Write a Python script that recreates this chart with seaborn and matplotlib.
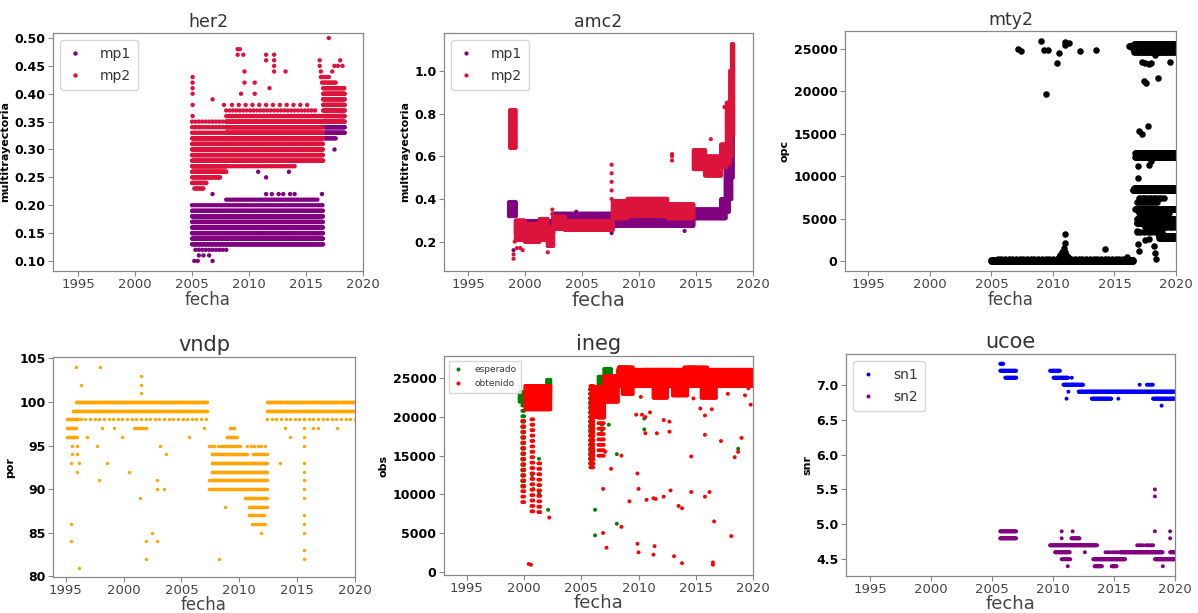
import numpy as np
import pandas as pd
import matplotlib
matplotlib.use("Agg")
import matplotlib.pyplot as plt
import seaborn as sns

# ------------------------------------------------------------------
# DATA  (dense daily series described as rows
# of quantized values: (start year, end year, value, spacing in years),
# or blocks (start, end, low, high, x spacing, y spacing);
# isolated points listed explicitly)
# ------------------------------------------------------------------

# ---- her2 ----
her2_mp1_rows = [
    (2005.0, 2016.5, 0.13, 0.05), (2005.0, 2016.5, 0.14, 0.04), (2005.0, 2016.5, 0.15, 0.04),
    (2005.0, 2016.5, 0.16, 0.04), (2005.0, 2016.5, 0.17, 0.04), (2005.0, 2016.5, 0.18, 0.04),
    (2005.0, 2016.5, 0.19, 0.07), (2005.0, 2016.5, 0.20, 0.22), (2008.0, 2016.0, 0.21, 0.2),
    (2005.3, 2008.0, 0.12, 0.3),
    (2016.6, 2018.4, 0.33, 0.05), (2016.6, 2018.4, 0.34, 0.05), (2016.6, 2018.0, 0.35, 0.06),
    (2016.6, 2017.6, 0.32, 0.1), (2018.0, 2018.4, 0.36, 0.06),
]
her2_mp1_x = [2005.2, 2005.5, 2006.8, 2005.6, 2006.0, 2006.5, 2011.5, 2012.0, 2012.6, 2013.0,
              2013.6, 2014.0, 2016.4, 2006.8, 2010.8, 2011.5, 2013.5, 2005.2, 2017.5]
her2_mp1_y = [0.10, 0.10, 0.10, 0.11, 0.11, 0.11, 0.22, 0.22, 0.22, 0.22,
              0.22, 0.22, 0.22, 0.22, 0.26, 0.25, 0.26, 0.34, 0.30]
her2_mp2_rows = [
    (2005.2, 2006.0, 0.23, 0.1), (2005.0, 2006.3, 0.24, 0.06), (2005.0, 2007.5, 0.25, 0.06),
    (2005.0, 2008.0, 0.26, 0.04), (2005.0, 2008.0, 0.27, 0.04), (2005.0, 2016.5, 0.28, 0.05),
    (2005.0, 2016.5, 0.29, 0.04), (2005.0, 2016.5, 0.30, 0.04), (2005.0, 2016.5, 0.31, 0.04),
    (2005.0, 2016.5, 0.32, 0.04), (2005.0, 2008.0, 0.33, 0.15), (2005.0, 2008.0, 0.34, 0.2),
    (2005.0, 2008.0, 0.35, 0.3), (2008.0, 2016.5, 0.33, 0.04), (2008.0, 2016.5, 0.34, 0.04),
    (2008.0, 2016.5, 0.35, 0.05), (2008.0, 2014.0, 0.27, 0.2), (2008.0, 2016.4, 0.36, 0.1),
    (2008.0, 2016.0, 0.37, 0.3), (2008.5, 2015.5, 0.38, 0.6),
    (2016.5, 2018.4, 0.35, 0.05), (2016.5, 2018.4, 0.36, 0.05), (2016.5, 2018.4, 0.37, 0.05),
    (2016.5, 2018.4, 0.38, 0.05), (2016.5, 2018.4, 0.39, 0.05), (2016.5, 2018.4, 0.40, 0.05),
    (2016.5, 2018.4, 0.41, 0.06), (2016.4, 2017.6, 0.42, 0.12), (2016.4, 2017.0, 0.43, 0.2),
]
her2_mp2_x = [2005.05, 2005.05, 2005.05, 2005.05, 2005.05, 2005.05, 2006.8, 2007.8, 2009.0,
              2009.2, 2009.0, 2009.5, 2009.6, 2009.6, 2010.5, 2010.5, 2011.5, 2011.5, 2011.8,
              2012.2, 2012.2, 2012.2, 2012.2, 2013.2, 2009.3, 2016.2, 2016.2, 2016.3, 2016.3,
              2017.0, 2017.5, 2017.8, 2018.0, 2018.2, 2017.3]
her2_mp2_y = [0.36, 0.38, 0.40, 0.41, 0.42, 0.43, 0.39, 0.38, 0.48,
              0.48, 0.47, 0.47, 0.44, 0.42, 0.42, 0.40, 0.47, 0.46, 0.41,
              0.47, 0.46, 0.45, 0.44, 0.44, 0.40, 0.46, 0.45, 0.44, 0.43,
              0.50, 0.45, 0.45, 0.46, 0.45, 0.44]

# ---- amc2 ----
amc2_mp1_blocks = [
    (1998.6, 1999.2, 0.32, 0.39, 0.04, 0.008), (1999.2, 2002.5, 0.24, 0.30, 0.04, 0.008),
    (2002.5, 2007.7, 0.29, 0.335, 0.04, 0.008), (2007.7, 2014.8, 0.275, 0.31, 0.04, 0.008),
    (2014.8, 2017.2, 0.31, 0.35, 0.04, 0.008), (2017.2, 2017.6, 0.31, 0.40, 0.04, 0.008),
    (2017.6, 2017.9, 0.34, 0.55, 0.04, 0.008), (2017.9, 2018.1, 0.40, 0.75, 0.04, 0.008),
    (2018.1, 2018.25, 0.50, 0.95, 0.04, 0.008),
]
amc2_mp1_x = [2014.0, 1999.0, 2007.6, 2002.0, 2004.5]
amc2_mp1_y = [0.25, 0.16, 0.24, 0.28, 0.34]
amc2_mp2_blocks = [
    (1998.7, 1999.2, 0.64, 0.82, 0.04, 0.008), (1999.2, 2000.0, 0.21, 0.30, 0.04, 0.008),
    (2000.0, 2001.3, 0.20, 0.28, 0.04, 0.008), (2001.3, 2002.0, 0.21, 0.31, 0.04, 0.008),
    (2002.0, 2002.5, 0.18, 0.27, 0.04, 0.008), (2002.5, 2003.5, 0.26, 0.32, 0.04, 0.008),
    (2003.5, 2007.7, 0.255, 0.30, 0.04, 0.008), (2007.7, 2009.0, 0.31, 0.39, 0.04, 0.008),
    (2009.0, 2012.5, 0.32, 0.40, 0.04, 0.008), (2012.5, 2014.8, 0.31, 0.38, 0.04, 0.008),
    (2014.8, 2015.8, 0.54, 0.63, 0.04, 0.008), (2015.8, 2017.2, 0.51, 0.60, 0.04, 0.008),
    (2017.2, 2017.7, 0.55, 0.66, 0.04, 0.008), (2017.7, 2018.0, 0.57, 0.85, 0.04, 0.008),
    (2018.0, 2018.15, 0.60, 1.00, 0.04, 0.008), (2018.15, 2018.3, 0.70, 1.13, 0.04, 0.008),
]
amc2_mp2_x = [1999.0, 1999.0, 1999.1, 1999.3, 1999.6, 1999.8, 2002.0, 2002.4, 2002.4,
              2007.6, 2007.6, 2007.6, 2007.6, 2007.6, 2012.9, 2012.9, 2012.9, 2016.3, 2017.5]
amc2_mp2_y = [0.12, 0.14, 0.20, 0.17, 0.17, 0.16, 0.15, 0.35, 0.33,
              0.40, 0.44, 0.48, 0.52, 0.56, 0.58, 0.60, 0.61, 0.68, 0.83]

# ---- mty2 ----
mty2_rows = [
    (2005.0, 2016.5, 50, 0.04), (2005.0, 2016.5, 180, 0.05), (2005.5, 2016.2, 320, 0.3),
    (2016.2, 2020.0, 25300, 0.03), (2016.5, 2020.0, 25000, 0.06), (2016.6, 2020.0, 24700, 0.1),
    (2016.6, 2020.0, 25600, 0.06), (2016.7, 2020.0, 12300, 0.03), (2016.7, 2020.0, 12700, 0.04),
    (2016.5, 2020.0, 8400, 0.03), (2016.6, 2020.0, 8600, 0.05), (2016.7, 2020.0, 6200, 0.05),
    (2016.8, 2020.0, 5000, 0.05), (2016.8, 2020.0, 4500, 0.07), (2017.5, 2020.0, 4000, 0.2),
    (2018.6, 2020.0, 3000, 0.04), (2018.6, 2020.0, 2800, 0.06), (2016.8, 2018.5, 7000, 0.15),
    (2017.0, 2019.0, 7500, 0.2), (2017.0, 2019.5, 5700, 0.15), (2016.8, 2019.0, 3500, 0.3),
    (2010.5, 2011.2, 500, 0.05), (2010.6, 2011.1, 800, 0.08), (2010.7, 2011.0, 1100, 0.1),
]
mty2_x = [2007.2, 2007.4, 2009.0, 2009.3, 2009.4, 2009.6, 2010.3, 2010.5, 2011.0, 2011.0,
          2011.3, 2012.2, 2013.5, 2014.2, 2016.0, 2011.0, 2011.0, 2010.9,
          2017.2, 2017.5, 2017.8, 2018.0, 2019.5, 2018.3, 2017.4, 2017.6, 2018.5, 2017.0,
          2017.2, 2017.7, 2016.9, 2017.8, 2018.0, 2016.9, 2016.8, 2016.9, 2017.0, 2017.5,
          2018.2, 2018.3, 2018.4, 2017.8]
mty2_y = [25000, 24800, 25900, 24900, 19700, 24900, 23400, 24500, 25800, 25500,
          25700, 24800, 24900, 1400, 500, 3200, 2100, 1600,
          23500, 23400, 23200, 23300, 23500, 24300, 21200, 21000, 21600, 15400,
          15000, 15900, 11200, 11300, 11800, 9800, 3600, 2000, 1200, 2500,
          1800, 1000, 300, 2600]

# ---- vndp ----
vndp_rows = [
    (1995.9, 2007.2, 100, 0.04), (2012.4, 2020.0, 100, 0.04),
    (1995.6, 2007.2, 99, 0.05), (2012.4, 2020.0, 99, 0.05),
    (1995.1, 1996.1, 98, 0.06), (1996.3, 2007.1, 98, 0.4), (2012.4, 2020.0, 98, 0.4),
    (1995.1, 1995.9, 97, 0.07), (2000.9, 2001.9, 97, 0.1), (1995.1, 1996.0, 96, 0.07),
    (2007.4, 2007.8, 95, 0.1), (2008.2, 2010.1, 95, 0.1), (2010.7, 2012.4, 95, 0.3),
    (2007.6, 2010.7, 94, 0.06), (2011.2, 2012.4, 94, 0.1),
    (2007.6, 2012.4, 93, 0.05), (2007.6, 2012.4, 92, 0.05), (2007.4, 2012.4, 91, 0.06),
    (2007.4, 2012.4, 90, 0.08), (2010.5, 2012.4, 89, 0.06), (2010.8, 2012.4, 88, 0.06),
    (2010.8, 2012.2, 87, 0.08), (2011.1, 2012.2, 86, 0.1),
    (2008.9, 2009.8, 96, 0.06), (2009.2, 2009.6, 97, 0.06),
]
vndp_x = [1995.86, 1997.96, 1996.35, 2001.47, 2001.47, 2001.47, 2002.47, 2001.98, 2002.9,
          2001.98, 1995.49, 1995.49, 1996.15, 1995.57, 1996.0, 1997.7, 2003.19, 1995.57,
          1996.0, 2003.68, 1995.43, 1996.15, 1998.6, 1995.95, 2000.46, 1997.87, 2002.9,
          2002.9, 2003.48, 2001.4, 1996.87, 1999.89, 2005.63, 1998.16, 1999.17, 2006.93,
          2008.28, 2013.97, 2016.4, 2016.84, 2018.42, 2014.4, 2013.48, 2011.9, 2008.8,
          2015.55, 2015.55, 2015.55, 2015.55, 2015.55, 2015.55, 2015.55, 2015.55, 2015.55,
          2015.55, 2015.55, 2015.55, 2015.55, 2015.55]
vndp_y = [104, 104, 102, 103, 102, 101, 85, 84, 84,
          82, 86, 84, 81, 95, 95, 95, 95, 94,
          94, 94, 93, 93, 93, 92, 92, 91, 91,
          90, 90, 89, 96, 96, 96, 97, 97, 97,
          82, 97, 97, 97, 97, 96, 93, 85, 88,
          98, 97, 96, 95, 93, 92, 91, 90, 89,
          87, 86, 85, 83, 82]

# ---- ineg ----
ineg_esp_blocks = [
    (1999.6, 2000.1, 22000, 23300, 0.05, 300), (1999.85, 2000.0, 11000, 22000, 0.15, 700),
    (2002.0, 2002.3, 23300, 24800, 0.05, 300), (2005.75, 2006.1, 14000, 24000, 0.15, 600),
    (2006.5, 2008.2, 24000, 25300, 0.05, 300), (2007.0, 2007.6, 25300, 26400, 0.05, 300),
    (2008.3, 2009.0, 25800, 26500, 0.05, 300), (2014.5, 2015.0, 25800, 26400, 0.1, 300),
]
ineg_esp_x = [2000.7, 2000.8, 2001.3, 2001.3, 2002.1, 2010.5, 2010.5, 2018.7, 2008.1, 2008.1,
              2006.2, 2006.2, 2006.8, 2006.8, 2007.4]
ineg_esp_y = [12500, 10700, 14600, 10200, 8000, 18400, 19800, 15900, 6200, 15200,
              8000, 4700, 18300, 19000, 19000]
ineg_obt_blocks = [
    (1999.85, 2000.1, 9000, 20000, 0.15, 700), (2000.1, 2002.3, 21000, 24000, 0.05, 300),
    (2000.65, 2000.9, 7800, 20000, 0.15, 700), (2001.25, 2001.4, 7700, 14000, 0.15, 700),
    (2005.8, 2006.1, 13500, 24000, 0.08, 500), (2006.1, 2007.0, 20000, 24000, 0.05, 300),
    (2007.0, 2008.2, 22000, 25500, 0.05, 300), (2006.5, 2007.0, 15000, 20000, 0.15, 700),
    (2008.2, 2020.0, 24000, 26100, 0.05, 300), (2008.3, 2009.5, 26100, 26500, 0.05, 300),
    (2010.5, 2013.0, 26100, 26300, 0.08, 300), (2014.0, 2016.0, 26100, 26400, 0.08, 300),
    (2008.6, 2009.5, 23000, 24000, 0.06, 300),
    (2011.3, 2012.5, 22500, 24000, 0.06, 300), (2013.0, 2014.3, 22800, 24000, 0.06, 300),
    (2015.5, 2016.8, 22500, 24000, 0.06, 300),
]
ineg_obt_x = [2000.4, 2000.6, 2002.2, 2006.9, 2006.9, 2007.2, 2007.1, 2007.6, 2008.5, 2008.5,
              2009.2, 2009.9, 2010.0, 2009.9, 2010.0, 2009.8, 2010.3, 2010.6, 2010.6, 2010.7,
              2011.0, 2011.3, 2011.5, 2011.4, 2011.3, 2011.6, 2012.2, 2012.2, 2012.7, 2012.7,
              2012.8, 2013.1, 2013.5, 2013.8, 2013.8, 2014.6, 2014.6, 2015.4, 2015.8, 2015.8,
              2015.8, 2016.2, 2016.4, 2016.5, 2016.5, 2016.6, 2017.2, 2018.1, 2018.4, 2018.7,
              2019.0, 2019.6, 2019.8, 2010.2, 2014.8, 2017.8, 2019.3]
ineg_obt_y = [1000, 900, 7000, 10700, 5000, 3100, 15500, 13300, 5800, 15000,
              9100, 12700, 10700, 3600, 2500, 20300, 20300, 20000, 17900, 9300,
              20600, 9500, 9400, 3300, 2200, 17900, 9700, 19600, 19400, 18100,
              10500, 2000, 8500, 8200, 1100, 14900, 10300, 21100, 9700, 17700,
              20200, 10300, 21000, 1200, 900, 6500, 16900, 4600, 14800, 15500,
              17300, 23700, 21600, 22600, 22400, 23000, 22800]

# ---- ucoe ----
ucoe_sn1_rows = [
    (2005.66, 2005.93, 7.3, 0.06), (2005.66, 2007.0, 7.2, 0.05), (2006.07, 2007.0, 7.1, 0.05),
    (2009.75, 2010.57, 7.2, 0.05), (2010.03, 2011.26, 7.1, 0.05), (2010.85, 2012.49, 7.0, 0.05),
    (2012.1, 2020.0, 6.9, 0.04), (2013.17, 2014.8, 6.8, 0.05), (2018.2, 2020.0, 6.8, 0.05),
    (2017.7, 2018.2, 7.0, 0.12),
]
ucoe_sn1_x = [2011.53, 2017.1, 2015.35, 2011.1, 2011.25, 2018.9, 2011.6]
ucoe_sn1_y = [7.1, 7.0, 6.8, 6.8, 6.9, 6.7, 7.0]
ucoe_sn2_rows = [
    (2005.66, 2007.0, 4.9, 0.05), (2005.66, 2007.0, 4.8, 0.05), (2009.75, 2013.6, 4.7, 0.05),
    (2010.16, 2011.4, 4.6, 0.05), (2010.7, 2011.4, 4.5, 0.07), (2011.5, 2012.2, 4.8, 0.06),
    (2013.3, 2015.9, 4.5, 0.04), (2013.4, 2014.0, 4.4, 0.05), (2014.8, 2015.2, 4.4, 0.05),
    (2014.3, 2015.3, 4.6, 0.2), (2015.5, 2019.0, 4.6, 0.04), (2016.9, 2017.4, 4.7, 0.15),
    (2017.6, 2018.2, 4.7, 0.15), (2018.36, 2020.0, 4.5, 0.04), (2019.6, 2020.0, 4.6, 0.05),
]
ucoe_sn2_x = [2018.35, 2018.35, 2018.35, 2019.6, 2019.6, 2019.0, 2010.7, 2010.7, 2011.6,
              2011.2, 2012.6]
ucoe_sn2_y = [5.5, 5.4, 4.9, 4.9, 4.8, 4.4, 4.9, 4.8, 4.9, 4.4, 4.6]


# ------------------------------------------------------------------
def from_rows(rows, xs_extra, ys_extra, label):
    xs, ys = [], []
    for x0, x1, y, dx in rows:
        px = np.arange(x0, x1 + 1e-9, dx)
        xs.append(px)
        ys.append(np.full(len(px), y, dtype=float))
    xs.append(np.asarray(xs_extra, float))
    ys.append(np.asarray(ys_extra, float))
    return pd.DataFrame({"fecha": np.concatenate(xs), "valor": np.concatenate(ys), "serie": label})


def from_blocks(blocks, xs_extra, ys_extra, label):
    xs, ys = [], []
    for x0, x1, y0, y1, dx, dy in blocks:
        gx, gy = np.meshgrid(np.arange(x0, x1 + 1e-9, dx), np.arange(y0, y1 + 1e-9, dy))
        xs.append(gx.ravel())
        ys.append(gy.ravel())
    xs.append(np.asarray(xs_extra, float))
    ys.append(np.asarray(ys_extra, float))
    return pd.DataFrame({"fecha": np.concatenate(xs), "valor": np.concatenate(ys), "serie": label})


W, H = 1198, 613
fig = plt.figure(figsize=(W / 100, H / 100), dpi=100)
fig.patch.set_facecolor("white")


def ax_at(l, t, r, b):
    return fig.add_axes([l / W, 1 - b / H, (r - l) / W, (b - t) / H])


def style(ax, title, ylabel, ylim, xlim, yticks, fmt=None, tfs=12.5, xlfs=12, ylfs=8, labelpad=0):
    ax.set_title(title, fontsize=tfs, color="#333333", pad=4)
    ax.set_xlabel("fecha", fontsize=xlfs, color="#444444", labelpad=labelpad)
    ax.set_ylabel(ylabel, fontsize=ylfs, fontweight="bold", color="black", labelpad=3)
    ax.set_xlim(*xlim)
    ax.set_ylim(*ylim)
    ax.set_xticks([1995, 2000, 2005, 2010, 2015, 2020])
    ax.set_yticks(yticks)
    labels = [fmt.format(v) for v in yticks] if fmt else [str(v) for v in yticks]
    ax.set_yticklabels(labels, fontweight="bold")
    ax.tick_params(axis="x", labelsize=9.5, labelcolor="#444444", color="#888888", length=3.5, pad=1.5)
    ax.tick_params(axis="y", labelsize=9, labelcolor="black", color="#888888", length=3.5, pad=2)
    for sp in ax.spines.values():
        sp.set_color("#888888")
        sp.set_linewidth(0.9)


def legend(ax, fs=10):
    leg = ax.legend(loc="upper left", fontsize=fs, frameon=True, markerscale=1.0,
                    handletextpad=1.2, borderpad=0.5, labelspacing=0.6, handlelength=1.2)
    for t in leg.get_texts():
        t.set_color("#333333")
    leg.get_frame().set_edgecolor("#cccccc")
    return leg


PURPLE, CRIMSON = "#800080", "#DC143C"

# her2
ax = ax_at(53, 33, 363, 271)
df = pd.concat([from_rows(her2_mp1_rows, her2_mp1_x, her2_mp1_y, "mp1"),
                from_rows(her2_mp2_rows, her2_mp2_x, her2_mp2_y, "mp2")])
sns.scatterplot(data=df, x="fecha", y="valor", hue="serie", palette={"mp1": PURPLE, "mp2": CRIMSON},
                s=10, linewidth=0, ax=ax)
style(ax, "her2", "multitrayectoria", (0.082, 0.509), (1992.8, 2020.0),
      [0.10, 0.15, 0.20, 0.25, 0.30, 0.35, 0.40, 0.45, 0.50], fmt="{:.2f}")
legend(ax)

# amc2
ax = ax_at(444, 33, 753, 271)
df = pd.concat([from_blocks(amc2_mp1_blocks, amc2_mp1_x, amc2_mp1_y, "mp1"),
                from_blocks(amc2_mp2_blocks, amc2_mp2_x, amc2_mp2_y, "mp2")])
sns.scatterplot(data=df, x="fecha", y="valor", hue="serie", palette={"mp1": PURPLE, "mp2": CRIMSON},
                s=9, linewidth=0, ax=ax)
style(ax, "amc2", "multitrayectoria", (0.0625, 1.177), (1992.9, 2020.0),
      [0.2, 0.4, 0.6, 0.8, 1.0], fmt="{:.1f}", xlfs=14)
legend(ax)

# mty2
ax = ax_at(845, 31, 1176, 271)
df = from_rows(mty2_rows, mty2_x, mty2_y, "opc")
sns.scatterplot(data=df, x="fecha", y="valor", color="black", s=22, linewidth=0, ax=ax, legend=False)
style(ax, "mty2", "opc", (-1140, 27120), (1993.1, 2020.0), [0, 5000, 10000, 15000, 20000, 25000])

# vndp
ax = ax_at(53, 357, 355, 577)
df = from_rows(vndp_rows, vndp_x, vndp_y, "por")
sns.scatterplot(data=df, x="fecha", y="valor", color="#FFA500", s=6, linewidth=0, ax=ax, legend=False)
style(ax, "vndp", "por", (79.92, 105.16), (1993.9, 2020.0), [80, 85, 90, 95, 100, 105], tfs=15,
      xlfs=12, labelpad=-1)

# ineg
ax = ax_at(444, 356, 753, 575)
df = pd.concat([from_blocks(ineg_esp_blocks, ineg_esp_x, ineg_esp_y, "esperado"),
                from_blocks(ineg_obt_blocks, ineg_obt_x, ineg_obt_y, "obtenido")])
sns.scatterplot(data=df, x="fecha", y="valor", hue="serie",
                palette={"esperado": "#008000", "obtenido": "#FF0000"}, s=8, linewidth=0, ax=ax)
style(ax, "ineg", "obs", (-430, 27890), (1993.0, 2020.0), [0, 5000, 10000, 15000, 20000, 25000],
      tfs=15, xlfs=13, labelpad=-1)
legend(ax, fs=6.5)

# ucoe
ax = ax_at(846, 354, 1175, 576)
df = pd.concat([from_rows(ucoe_sn1_rows, ucoe_sn1_x, ucoe_sn1_y, "sn1"),
                from_rows(ucoe_sn2_rows, ucoe_sn2_x, ucoe_sn2_y, "sn2")])
sns.scatterplot(data=df, x="fecha", y="valor", hue="serie", palette={"sn1": "#0000FF", "sn2": PURPLE},
                s=8, linewidth=0, ax=ax)
style(ax, "ucoe", "snr", (4.26, 7.44), (1993.0, 2020.0), [4.5, 5.0, 5.5, 6.0, 6.5, 7.0], fmt="{:.1f}",
      tfs=15, xlfs=13, labelpad=-1)
legend(ax, fs=10)

fig.savefig("out.png", dpi=100, facecolor="white")
